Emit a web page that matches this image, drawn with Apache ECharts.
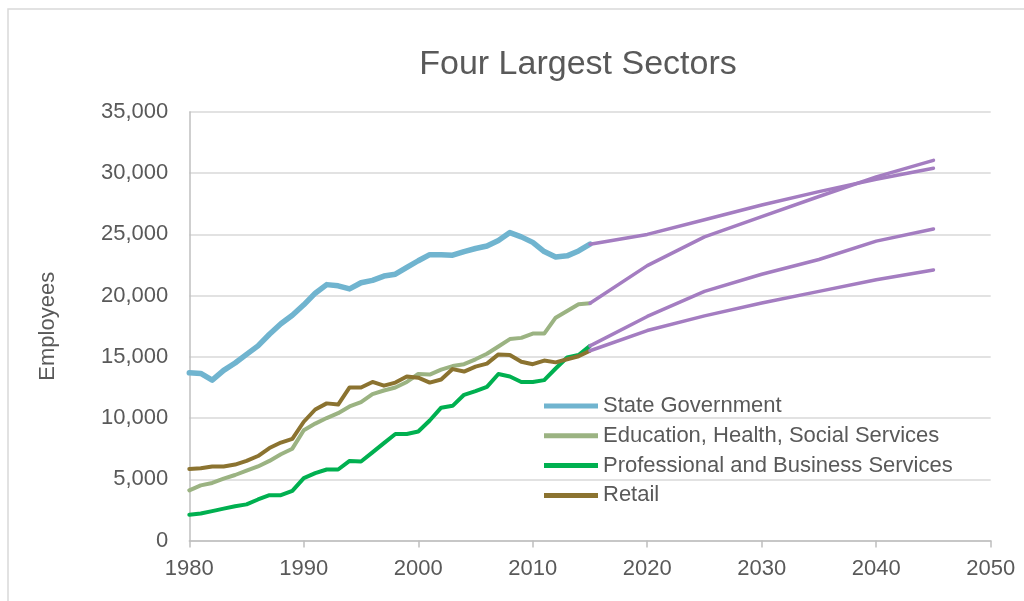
<!DOCTYPE html>
<html>
<head>
<meta charset="utf-8">
<script src="https://cdn.jsdelivr.net/npm/echarts@6/dist/echarts.min.js"></script>
<style>
  html, body { margin: 0; padding: 0; background: #ffffff; }
  #chart { width: 1024px; height: 601px; }
</style>
</head>
<body>
<div id="chart"></div>
<script>
// Annual employment, 1980-2015
const histYears = [1980,1981,1982,1983,1984,1985,1986,1987,1988,1989,
                   1990,1991,1992,1993,1994,1995,1996,1997,1998,1999,
                   2000,2001,2002,2003,2004,2005,2006,2007,2008,2009,
                   2010,2011,2012,2013,2014,2015];
const stateGov = [13700,13650,13100,13900,14500,15200,15900,16850,17700,18400,
                  19250,20200,20900,20800,20550,21050,21250,21600,21750,22300,
                  22850,23350,23350,23300,23600,23850,24050,24500,25150,24800,
                  24350,23600,23150,23250,23650,24200];
const education = [4100,4500,4700,5050,5350,5700,6050,6500,7050,7500,
                   9000,9550,10000,10400,10950,11300,11950,12250,12500,12950,
                   13600,13550,13950,14250,14400,14800,15250,15850,16450,16550,
                   16900,16900,18200,18750,19300,19380];
const professional = [2100,2200,2400,2600,2800,2950,3350,3700,3700,4050,
                      5100,5500,5800,5800,6500,6450,7200,7950,8700,8700,
                      8900,9800,10850,11000,11900,12200,12550,13600,13400,12950,
                      12950,13100,14050,14950,15150,15900];
const retail = [5850,5900,6050,6050,6200,6500,6900,7550,8000,8300,
                9700,10700,11200,11100,12500,12500,12950,12650,12900,13400,
                13300,12900,13150,14000,13800,14200,14450,15200,15150,14600,
                14400,14700,14550,14800,15050,15500];

// Projections, 2015-2045
const projYears = [2015,2020,2025,2030,2035,2040,2045];
const stateProj = [24200,25000,26200,27400,28500,29500,30400];
const eduProj = [19380,22450,24800,26450,28100,29700,31050];
const profProj = [15900,18300,20350,21750,22950,24450,25450];
const retailProj = [15500,17150,18350,19400,20350,21300,22100];

const seriesNames = ['State Government', 'Education, Health, Social Services',
                     'Professional and Business Services', 'Retail'];
const titleText = 'Four Largest Sectors';
const yAxisName = 'Employees';

const pair = (xs, ys) => xs.map((x, i) => [x, ys[i]]);

const FONT = "'Liberation Sans', Arial, sans-serif";
const TEXT = '#595959';
const PURPLE = '#a47dc1';

function histLine(name, values, color, width) {
  return {
    name: name, type: 'line', data: pair(histYears, values),
    showSymbol: false, symbol: 'none', smooth: false,
    lineStyle: { color: color, width: width, cap: 'round', join: 'round' },
    itemStyle: { color: color },
    emphasis: { disabled: true }
  };
}
function projLine(values) {
  return {
    type: 'line', data: pair(projYears, values),
    showSymbol: false, symbol: 'none', smooth: false,
    lineStyle: { color: PURPLE, width: 3.5, cap: 'round', join: 'round' },
    itemStyle: { color: PURPLE },
    emphasis: { disabled: true }
  };
}

const chart = echarts.init(document.getElementById('chart'), null, { renderer: 'canvas' });
chart.setOption({
  animation: false,
  backgroundColor: '#ffffff',
  graphic: [{
    type: 'rect', z: -10,
    shape: { x: 8, y: 9, width: 1200, height: 800 },
    style: { fill: 'none', stroke: '#d9d9d9', lineWidth: 1.5 }
  }],
  title: {
    text: titleText, left: 573, top: 43, textAlign: 'center',
    textStyle: { fontFamily: FONT, fontSize: 34, fontWeight: 'normal', color: TEXT }
  },
  legend: {
    orient: 'vertical', left: 544, top: 395, padding: 0,
    itemWidth: 54, itemHeight: 5, itemGap: 7.8, icon: 'rect',
    selectedMode: false,
    data: seriesNames,
    textStyle: { fontFamily: FONT, fontSize: 22, color: TEXT, lineHeight: 22 }
  },
  grid: { left: 189.3, right: 33.3, top: 112, bottom: 60.5, containLabel: false },
  xAxis: {
    type: 'value', min: 1980, max: 2050, interval: 10,
    axisLine: { show: true, lineStyle: { color: '#bfbfbf', width: 1.5 } },
    axisTick: { show: true, length: 7, lineStyle: { color: '#bfbfbf', width: 1.5 } },
    axisLabel: { margin: 17, fontFamily: FONT, fontSize: 22, color: TEXT,
                 formatter: v => String(v) },
    splitLine: { show: false }
  },
  yAxis: {
    type: 'value', min: 0, max: 35000, interval: 5000,
    name: yAxisName, nameLocation: 'middle', nameGap: 130,
    nameTextStyle: { fontFamily: FONT, fontSize: 22, color: TEXT },
    axisLine: { show: true, lineStyle: { color: '#bfbfbf', width: 1.5 } },
    axisTick: { show: false },
    axisLabel: {
      margin: 21, fontFamily: FONT, fontSize: 22, color: TEXT,
      formatter: v => v.toLocaleString('en-US')
    },
    splitLine: { show: true, lineStyle: { color: '#d9d9d9', width: 1.5 } }
  },
  series: [
    histLine(seriesNames[0], stateGov, '#70b4cf', 5.5),
    histLine(seriesNames[1], education, '#9bb382', 4),
    histLine(seriesNames[2], professional, '#00b050', 4),
    histLine(seriesNames[3], retail, '#8b7330', 4),
    projLine(stateProj),
    projLine(eduProj),
    projLine(profProj),
    projLine(retailProj)
  ]
});
</script>
</body>
</html>
